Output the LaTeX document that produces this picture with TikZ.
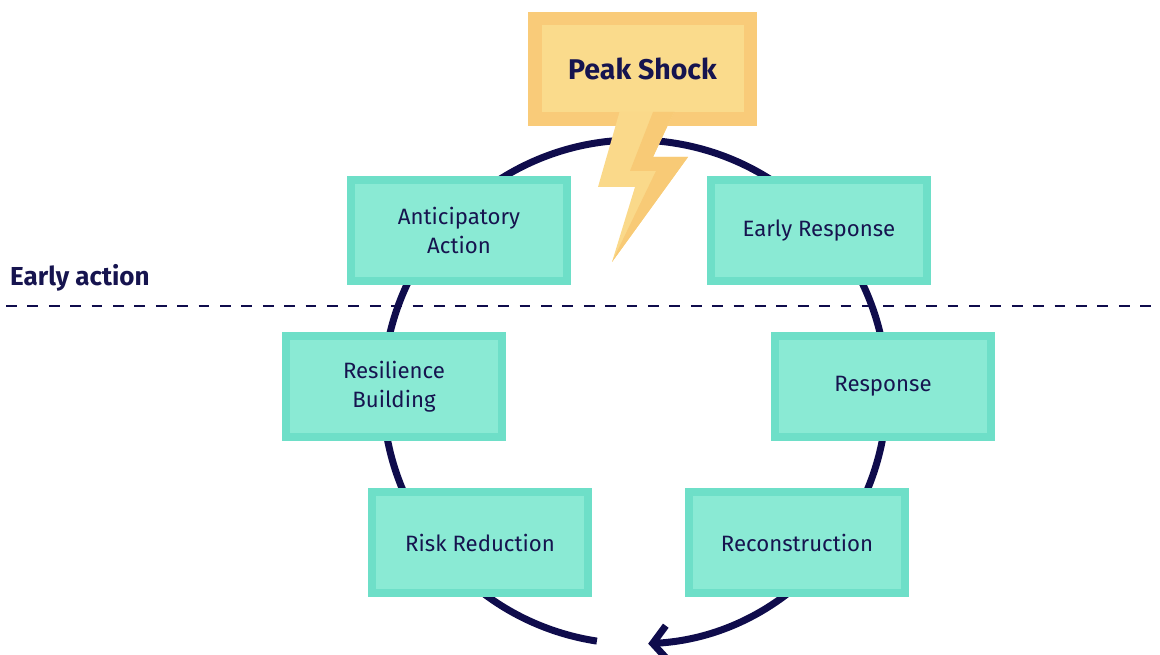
\documentclass[tikz,border=0pt]{standalone}
\usepackage{fontspec}
\setmainfont{Fira Sans}
\usetikzlibrary{arrows.meta}
\definecolor{navy}{HTML}{0F0C4C}
\definecolor{navyt}{HTML}{16144F}
\definecolor{tealb}{HTML}{6EDFC8}
\definecolor{tealf}{HTML}{8AEAD4}
\definecolor{peakb}{HTML}{F9CB79}
\definecolor{peakf}{HTML}{FADB8C}
\definecolor{boltl}{HTML}{FAD98A}
\definecolor{boltd}{HTML}{F8CA76}
\tikzset{
  stagebox/.style={draw=tealb, line width=8pt, fill=tealf, minimum width=216pt,
    minimum height=101pt, inner sep=0pt, text=navyt, align=center,
    font=\fontsize{22.2}{29.5}\selectfont},
  peakbox/.style={draw=peakb, line width=13.5pt, fill=peakf, minimum width=215.5pt,
    minimum height=100.5pt, inner sep=0pt, text=navyt,
    font=\fontsize{28.5}{32}\selectfont\bfseries},
  cyclearc/.style={draw=navy, line width=7pt, -{Straight Barb[length=14pt,width=34pt]}},
  divider/.style={draw=navy, line width=2.6pt, dash pattern=on 10.7pt off 10.7pt},
  sidelabel/.style={text=navyt, inner sep=0pt, font=\fontsize{26}{30}\selectfont\bfseries}
}
\begin{document}
\begin{tikzpicture}[x=1pt,y=-1pt]
\useasboundingbox (0,0) rectangle (1160,655);
% divider
\coordinate (dl) at (6,306);
\coordinate (dr) at (1160,306);
\draw[divider] (dl) -- (dr);
\node[sidelabel, anchor=west] (ea) at (10,278) {Early action};
% cycle
\coordinate (cc) at (635,392);
\draw[cyclearc] ([shift={(98.7:252)}]cc) arc[start angle=98.7, end angle=447, radius=252];
% stages
\node[stagebox] (aa) at (459,230.5) {Anticipatory\\Action};
\node[stagebox] (er) at (819,230.5) {Early Response};
\node[stagebox] (rb) at (394,386.5) {Resilience\\Building};
\node[stagebox] (rs) at (883,386.5) {Response};
\node[stagebox] (rr) at (480,542.5) {Risk Reduction};
\node[stagebox] (rc) at (797,542.5) {Reconstruction};
% peak shock
\node[peakbox] (ps) at (642.5,69) {Peak Shock};
% bolt
\fill[boltl] (619.5,112) -- (674,112) -- (653,157) -- (688,157) -- (612,262) -- (635,187) -- (598,187) -- cycle;
\fill[boltd] (653,112) -- (674,112) -- (653,157) -- (688,157) -- (612,262) -- (656,171) -- (630,171) -- cycle;
\end{tikzpicture}
\end{document}
